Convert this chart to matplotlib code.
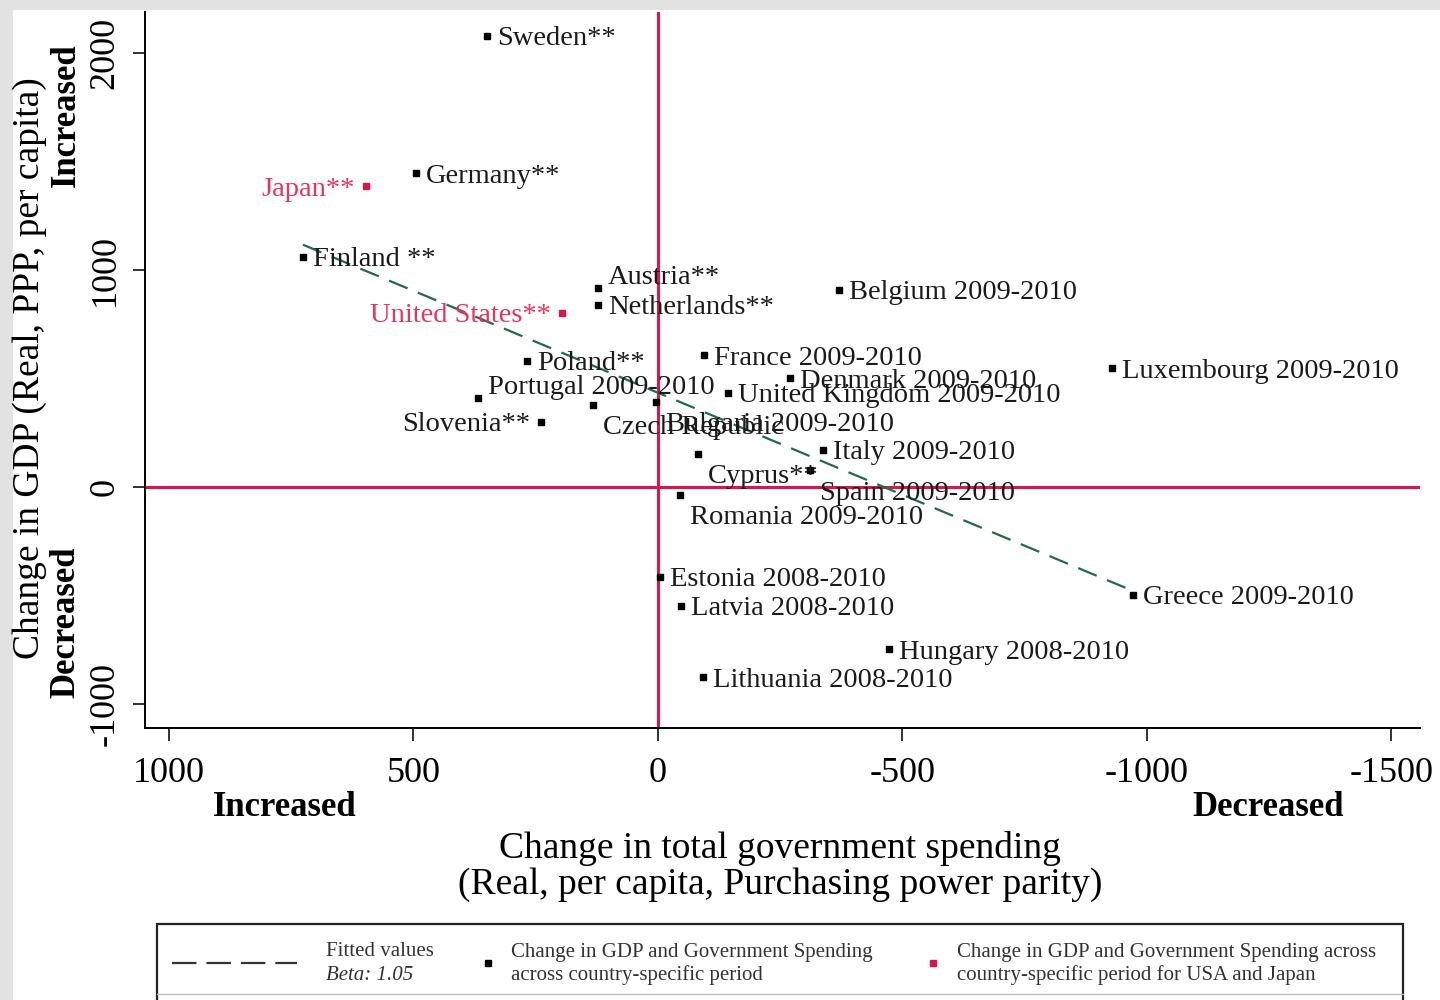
import numpy as np
import matplotlib
matplotlib.use("Agg")
import matplotlib.pyplot as plt
from matplotlib.lines import Line2D
from matplotlib.patches import Rectangle

plt.rcParams["font.family"] = ["Liberation Serif", "DejaVu Serif"]

# data: change in government spending (x) and in GDP (y)
countries = ["Sweden**", "Germany**", "Finland **", "Austria**", "Netherlands**",
             "Belgium 2009-2010", "Poland**", "France 2009-2010", "Portugal 2009-2010",
             "Slovenia**", "Czech Republic", "Bulgaria 2009-2010", "Denmark 2009-2010",
             "United Kingdom 2009-2010", "Italy 2009-2010", "Cyprus**", "Spain 2009-2010",
             "Romania 2009-2010", "Estonia 2008-2010", "Latvia 2008-2010",
             "Hungary 2008-2010", "Lithuania 2008-2010", "Greece 2009-2010",
             "Luxembourg 2009-2010"]
spend_change = [350, 495, 726, 123, 123, -370, 268, -94, 368, 239, 133, 4, -270,
                -143, -337, -82, -311, -45, -4, -47, -472, -92, -971, -928]
gdp_change = [2080, 1445, 1060, 917, 839, 908, 581, 608, 410, 300, 378, 392, 502,
              433, 171, 152, 78, -37, -415, -548, -747, -876, -498, 548]

red_countries = ["Japan**", "United States**"]
red_spend = [597, 196]
red_gdp = [1387, 802]

# fitted line
fit_slope = 0.94
fit_intercept = 434
fit_beta_text = "Beta: 1.05"

# label placement (Stata-style clock positions)
label_pos = [3, 3, 3, 2, 3, 3, 3, 3, 2, 9, 4, 4, 3, 3, 3, 4, 4, 4, 3, 3, 3, 3, 3, 3]
red_label_pos = [9, 9]

pos_style = {
    3: ((10, 0), "left"),
    9: ((-11, 0), "right"),
    2: ((10, 13), "left"),
    4: ((10, -20), "left"),
}

RED = "#d8174f"
LABEL_RED = "#e8335e"
GREEN = "#1f6b4a"

fig = plt.figure(figsize=(14.4, 10), dpi=100, facecolor="#e2e2e2")
fig.add_artist(Rectangle((0.009, 0), 0.991, 0.99, transform=fig.transFigure,
                         facecolor="white", edgecolor="none", zorder=-10))

ax = fig.add_axes([0.1007, 0.272, 0.8853, 0.716])
ax.patch.set_alpha(0)
ax.set_xlim(1049, -1558)
ax.set_ylim(-1111, 2189)

ax.axvline(0, color=RED, lw=2.2, zorder=1)
ax.axhline(0, color=RED, lw=2.2, zorder=1)

# fitted line over the data range
fx = np.array([max(spend_change), min(spend_change)])
ax.plot(fx, fit_intercept + fit_slope * fx, color=GREEN, lw=1.6,
        dashes=(9, 5), zorder=2)

ax.plot(spend_change, gdp_change, "s", color="black", ms=4, zorder=3)
ax.plot(red_spend, red_gdp, "s", color=RED, ms=4, zorder=3)

for name, x, y, p in zip(countries, spend_change, gdp_change, label_pos):
    (dx, dy), ha = pos_style[p]
    ax.annotate(name, (x, y), xytext=(dx, dy), textcoords="offset pixels",
                ha=ha, va="center_baseline", fontsize=20.5, color="#1a1a1a", zorder=4)
for name, x, y, p in zip(red_countries, red_spend, red_gdp, red_label_pos):
    (dx, dy), ha = pos_style[p]
    ax.annotate(name, (x, y), xytext=(dx, dy), textcoords="offset pixels",
                ha=ha, va="center_baseline", fontsize=20.5, color=LABEL_RED, zorder=4)

ax.spines["top"].set_visible(False)
ax.spines["right"].set_visible(False)
ax.spines["left"].set_linewidth(1.4)
ax.spines["bottom"].set_linewidth(1.4)

ax.set_xticks([1000, 500, 0, -500, -1000, -1500])
ax.set_xticklabels(["1000", "500", "0", "-500", "-1000", "-1500"])
ax.set_yticks([-1000, 0, 1000, 2000])
ax.set_yticklabels(["-1000", "0", "1000", "2000"], rotation=90, va="center")
ax.tick_params(axis="both", length=9, width=1.3, labelsize=26, color="#222222")
ax.tick_params(axis="x", pad=12)
ax.tick_params(axis="y", pad=8)

# axis titles and direction words
fig.text(285 / 1440, 1 - 808 / 1000, "Increased", fontsize=25, fontweight="bold",
         ha="center", va="center")
fig.text(1268 / 1440, 1 - 808 / 1000, "Decreased", fontsize=25, fontweight="bold",
         ha="center", va="center")
fig.text(780 / 1440, 1 - 849 / 1000, "Change in total government spending",
         fontsize=27, ha="center", va="center")
fig.text(780 / 1440, 1 - 885 / 1000, "(Real, per capita, Purchasing power parity)",
         fontsize=27, ha="center", va="center")

fig.text(30 / 1440, 1 - 368 / 1000, "Change in GDP (Real, PPP, per capita)",
         fontsize=27, rotation=90, ha="center", va="center")
fig.text(66 / 1440, 1 - 115 / 1000, "Increased", fontsize=25, fontweight="bold",
         rotation=90, ha="center", va="center")
fig.text(66 / 1440, 1 - 622 / 1000, "Decreased", fontsize=25, fontweight="bold",
         rotation=90, ha="center", va="center")

# legend box (drawn by hand, it is cut at the bottom of the picture)
fig.add_artist(Rectangle((157 / 1440, -0.02), (1403 - 157) / 1440, 0.096,
                         transform=fig.transFigure, facecolor="white",
                         edgecolor="#222222", lw=1.6))
fig.add_artist(Line2D([157 / 1440, 1403 / 1440], [0.006, 0.006],
                      transform=fig.transFigure, color="#bbbbbb", lw=1.0))
fig.add_artist(Line2D([172 / 1440, 297 / 1440], [1 - 963 / 1000] * 2,
                      transform=fig.transFigure, color="#333333", lw=1.6,
                      dashes=(11, 4.5)))
fig.text(326 / 1440, 1 - 952 / 1000, "Fitted values", fontsize=15, ha="left",
         va="center", color="#333333")
fig.text(326 / 1440, 1 - 975 / 1000, fit_beta_text, fontsize=15, ha="left",
         va="center", style="italic", color="#333333")
fig.add_artist(Line2D([488 / 1440], [1 - 963 / 1000], transform=fig.transFigure,
                      marker="s", ms=4, color="black"))
fig.text(511 / 1440, 1 - 952 / 1000, "Change in GDP and Government Spending",
         fontsize=15, ha="left", va="center", color="#333333")
fig.text(511 / 1440, 1 - 975 / 1000, "across country-specific period",
         fontsize=15, ha="left", va="center", color="#333333")
fig.add_artist(Line2D([933 / 1440], [1 - 963 / 1000], transform=fig.transFigure,
                      marker="s", ms=4, color=RED))
fig.text(957 / 1440, 1 - 952 / 1000, "Change in GDP and Government Spending across",
         fontsize=15, ha="left", va="center", color="#333333")
fig.text(957 / 1440, 1 - 975 / 1000, "country-specific period for USA and Japan",
         fontsize=15, ha="left", va="center", color="#333333")

fig.savefig("out.png", dpi=100, facecolor=fig.get_facecolor())
plt.close(fig)
